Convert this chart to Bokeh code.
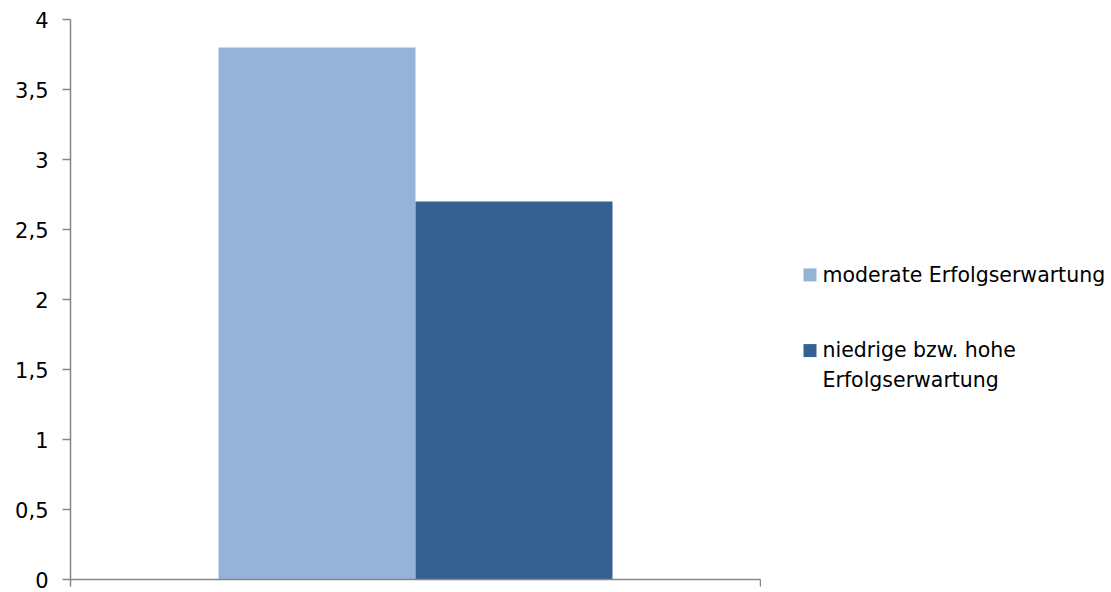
import numpy as np
from bokeh.plotting import figure
from bokeh.layouts import row
from bokeh.models import Range1d, FixedTicker, ColumnDataSource
from bokeh.core.properties import value
from bokeh.transform import dodge
from bokeh.embed import file_html
from bokeh.resources import INLINE

categories = ["Erfolgserwartung"]
series_names = ["moderate Erfolgserwartung", "niedrige bzw. hohe\nErfolgserwartung"]
moderate = [3.8]
niedrig_hoch = [2.7]
colors = ["#95B3D7", "#376092"]
y_ticks = [0, 0.5, 1, 1.5, 2, 2.5, 3, 3.5, 4]
y_tick_labels = ["0", "0,5", "1", "1,5", "2", "2,5", "3", "3,5", "4"]

FONT = "DejaVu Sans"
n = len(categories)
xpos = np.arange(n) + 0.5
src = ColumnDataSource(dict(x=xpos, cat=categories, moderate=moderate, niedrig=niedrig_hoch))

p = figure(width=761, height=592, x_range=Range1d(0, n), y_range=Range1d(0, 4),
           output_backend="svg", toolbar_location=None,
           min_border_left=70, min_border_right=1, min_border_top=19, min_border_bottom=13)
p.outline_line_color = None
p.grid.visible = False
p.background_fill_color = "white"
p.border_fill_color = "white"

bw = 0.2855
r1 = p.vbar(x=dodge("x", -bw / 2), top="moderate", width=bw, source=src,
            fill_color=colors[0], line_color=None)
r2 = p.vbar(x=dodge("x", bw / 2), top="niedrig", width=bw, source=src,
            fill_color=colors[1], line_color=None)

xa = p.xaxis[0]
xa.ticker = FixedTicker(ticks=list(np.arange(n + 1)))
xa.major_label_overrides = {0: "", 1: ""}
xa.major_label_standoff = 0
xa.major_tick_out = 7
xa.major_tick_in = 0
xa.minor_tick_line_color = None
xa.axis_line_color = "#868686"
xa.major_tick_line_color = "#868686"
xa.axis_line_width = 1.5
xa.major_tick_line_width = 1.5

ya = p.yaxis[0]
ya.ticker = FixedTicker(ticks=y_ticks)
ya.major_label_overrides = {t: l for t, l in zip(y_ticks, y_tick_labels)}
ya.major_tick_out = 8
ya.major_tick_in = 0
ya.minor_tick_line_color = None
ya.axis_line_color = "#868686"
ya.major_tick_line_color = "#868686"
ya.axis_line_width = 1.5
ya.major_tick_line_width = 1.5
ya.major_label_text_font = FONT
ya.major_label_text_font_size = "21px"
ya.major_label_text_color = "black"
ya.major_label_standoff = 14

# legend panel (pixel coordinates, y downward)
lg = figure(width=350, height=592, x_range=Range1d(0, 350), y_range=Range1d(592, 0),
            output_backend="svg", toolbar_location=None,
            min_border_left=0, min_border_right=0, min_border_top=0, min_border_bottom=0)
lg.axis.visible = False
lg.grid.visible = False
lg.outline_line_color = None
lg.background_fill_color = "white"
lg.border_fill_color = "white"

sq_x = 42 + 6.5
text_x = 61
square_y = [270, 350]
text_y = [270, 365]
lsrc = ColumnDataSource(dict(sx=[sq_x] * 2, tx=[text_x] * 2, sy=square_y, ty=text_y,
                             label=series_names, color=colors))
lg.scatter(x="sx", y="sy", marker="square", size=13, fill_color="color", line_color=None, source=lsrc)
lg.text(x="tx", y="ty", text="label", source=lsrc, text_font=value(FONT), text_font_size="20.5px",
        text_color="black", text_baseline="middle", text_align="left", text_line_height=1.25)

open("out.html", "w").write(file_html(row(p, lg, spacing=0), INLINE))
